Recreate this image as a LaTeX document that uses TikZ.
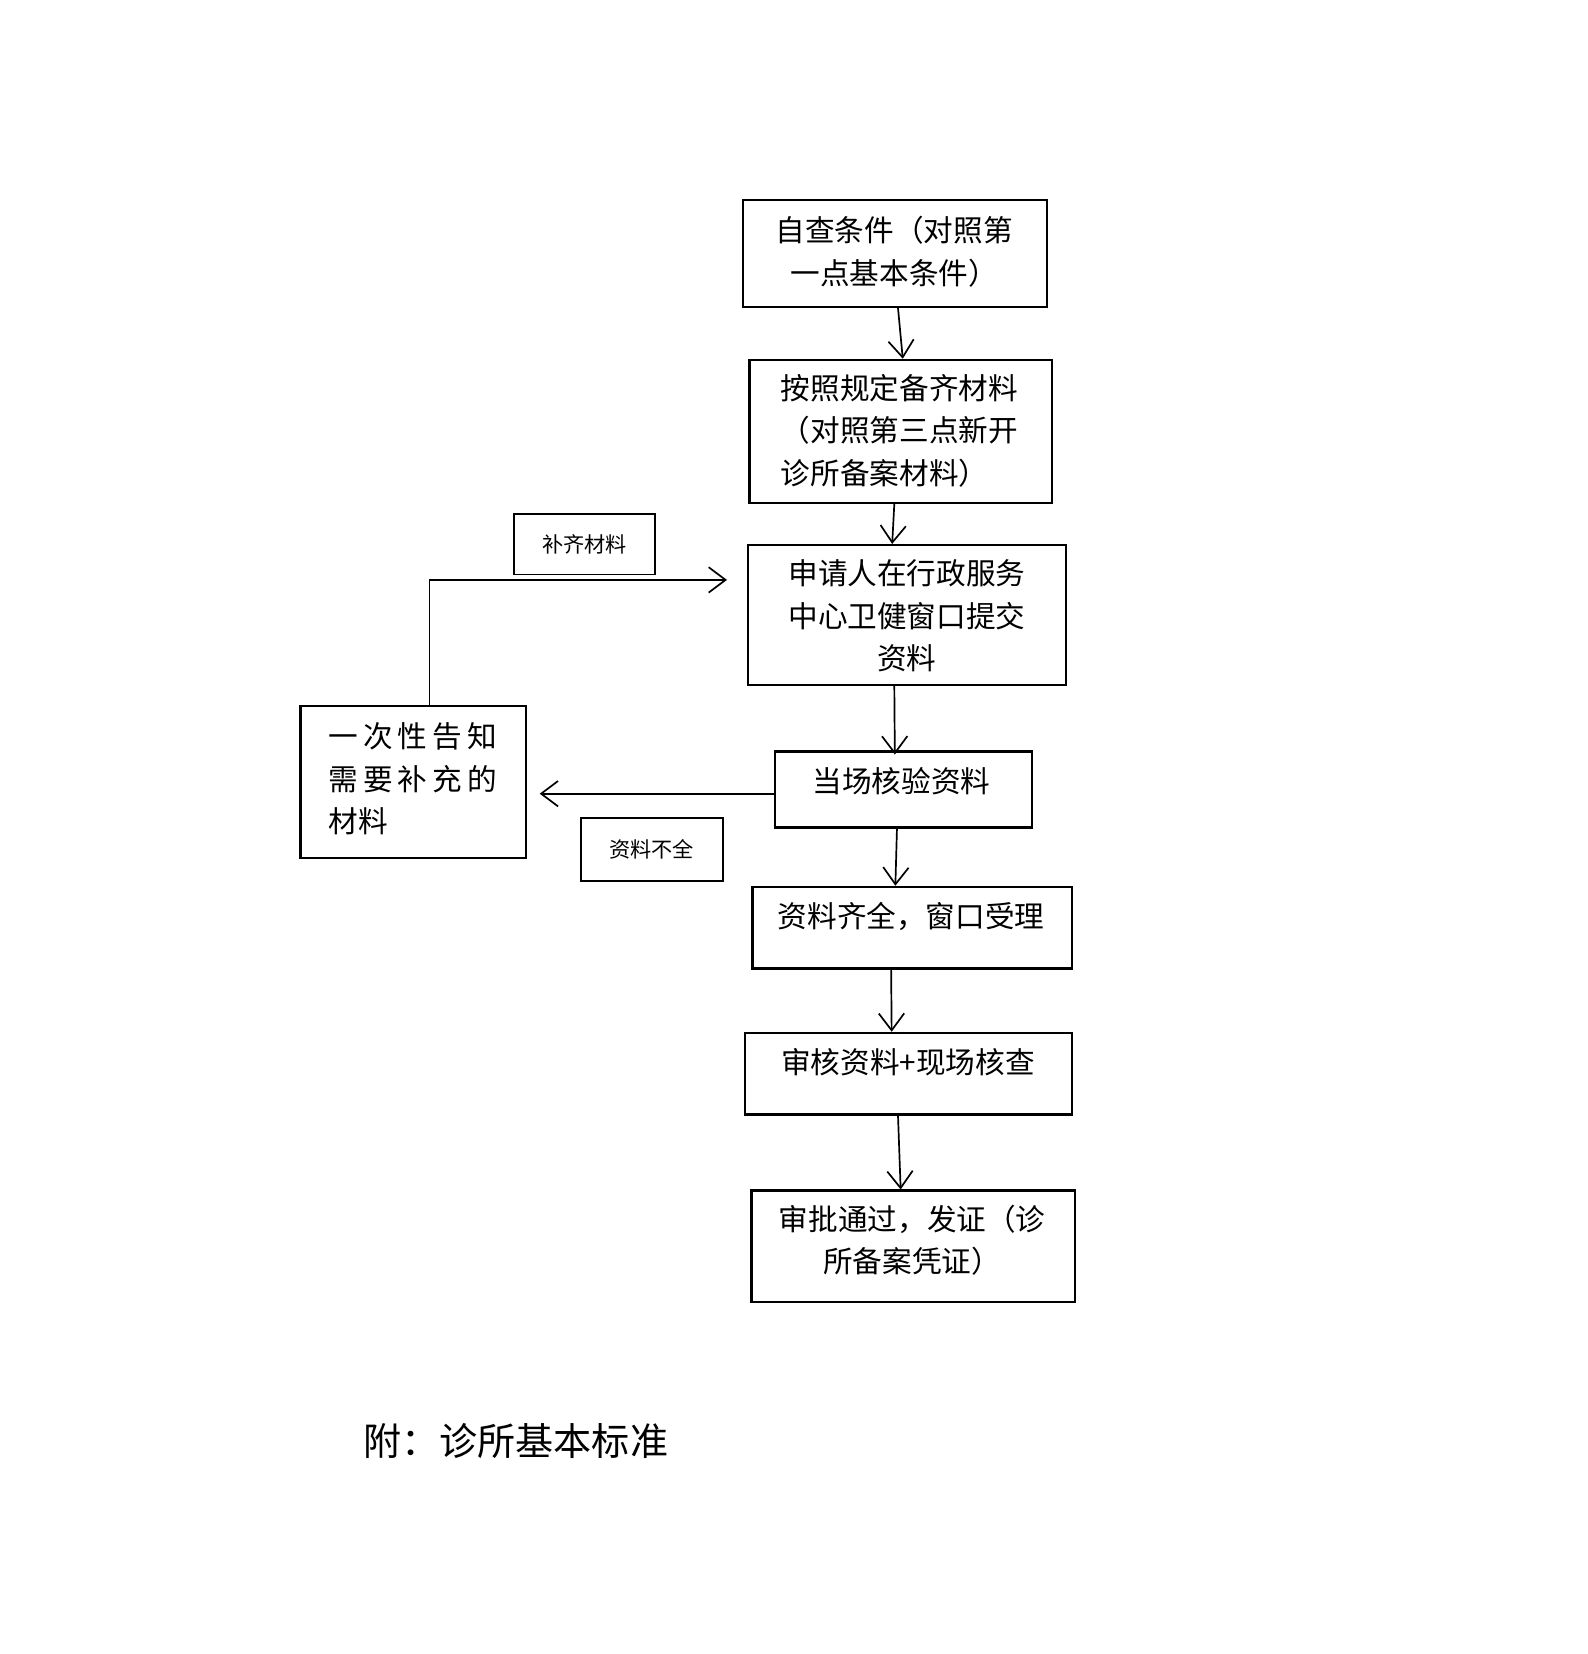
\documentclass[tikz,border=0pt]{standalone}
\usepackage{fontspec}
\setmainfont{Noto Sans CJK SC}
\usetikzlibrary{arrows.meta}
\tikzset{
 bx/.style={draw,line width=1.1pt,inner sep=0pt,anchor=north west},
 tx/.style={font=\fontsize{14pt}{20pt}\selectfont,align=center,inner sep=0pt},
 lb/.style={draw,line width=0.9pt,inner sep=0pt,anchor=north west,font=\fontsize{10pt}{12pt}\selectfont,align=center},
 ar/.style={-{Straight Barb[length=8pt,width=12pt]},line width=0.8pt}
}
\newcommand{\bbox}[5]{\node[bx,minimum width={(#3-#1)*0.5pt},minimum height={(#4-#2)*0.5pt}] (#5) at (#1,#2) {};}
\begin{document}
\begin{tikzpicture}[x=0.5pt,y=-0.5pt]
\useasboundingbox (0,0) rectangle (1500,1563);
\bbox{701}{188}{988}{289}{b1}
\node[tx] (t1) at (845,238) {自查条件（对照第\\一点基本条件）};
\bbox{707}{339}{993}{474}{b2}
\node[tx,align=left] (t2) at (850,407) {按照规定备齐材料\\（对照第三点新开\\诊所备案材料）};
\bbox{706}{514}{1006}{646}{b3}
\node[tx] (t3) at (857,582) {申请人在行政服务\\中心卫健窗口提交\\资料};
\bbox{731}{709}{974}{781}{b4}
\node[tx] (t4) at (852,738) {当场核验资料};
\bbox{710}{837}{1012}{914}{b5}
\node[tx] (t5) at (861,866) {资料齐全，窗口受理};
\bbox{703}{975}{1012}{1052}{b6}
\node[tx] (t6) at (858,1004) {审核资料+现场核查};
\bbox{709}{1124}{1015}{1229}{b7}
\node[tx] (t7) at (862,1172) {审批通过，发证（诊\\所备案凭证）};
\bbox{283}{666}{496}{810}{bl}
\node[tx,align=left] (tl) at (390,736) {一\,次\,性\,告\,知\\需\,要\,补\,充\,的\\材料\hspace{5.2em}};
\node[lb,minimum width={133*0.5pt},minimum height={57*0.5pt}] (l1) at (485,485) {补齐材料};
\node[lb,minimum width={134*0.5pt},minimum height={60*0.5pt}] (l2) at (548,772) {资料不全};
\node[font=\fontsize{18pt}{22pt}\selectfont,anchor=west,inner sep=0pt] (ft) at (343,1362) {附：诊所基本标准};
\coordinate (fb) at (687,548);
\draw[ar] ([xshift=1.5pt]b1.south) -- ([xshift=1pt]b2.north);
\draw[ar] ([xshift=-3pt]b2.south) -- ([xshift=-7pt]b3.north);
\draw[ar] ([xshift=-6pt]b3.south) -- ([xshift=-4pt,yshift=-2pt]b4.north);
\draw[ar] ([xshift=-3pt]b4.south) -- ([xshift=-8pt]b5.north);
\draw[ar] ([xshift=-10pt]b5.south) -- ([xshift=-8pt]b6.north);
\draw[ar] ([xshift=-5pt]b6.south) -- ([xshift=-6pt]b7.north);
\draw[ar] (b4.west|-0,750) -- (510,750);
\draw[ar] (bl.north-|406,0) -- (406,548) -- (fb);
\end{tikzpicture}
\end{document}
